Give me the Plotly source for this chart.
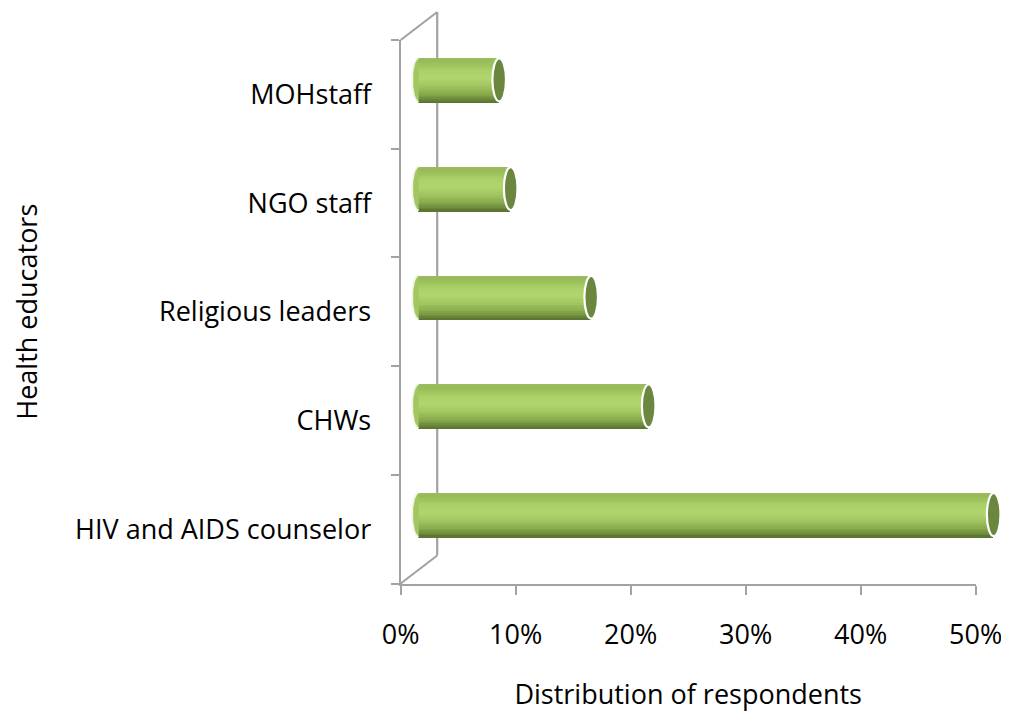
import math
import plotly.graph_objects as go

# ---- data (bottom -> top) ----
categories = ["HIV and AIDS counselor", "CHWs", "Religious leaders", "NGO staff", "MOHstaff"]
values = [50, 20, 15, 8, 7]
x_ticks = [0, 10, 20, 30, 40, 50]
x_title = "Distribution of respondents"
y_title = "Health educators"

W, H = 1009, 717
BODY = 8  # html body margin
FONT = "Open Sans"
FS = 27
GREY = "#a3a3a3"


def fx(px):
    return (px - BODY) / W


def fy(py):
    return (H - (py - BODY)) / H


# front (visible) axes frame in pixels (window coordinates)
FX0, FX1 = 400.7, 975.7
FY0, FY1 = 40.0, 583.5
DX_BAR, DY_BAR = 18.0, -14.5     # bar plane offset (3D depth)
DX_WALL, DY_WALL = 36.5, -28.0   # back wall offset

# cylinder shading (style): colour stops from top (0) to bottom (1)
stops = [(0.0, (0x9c, 0xbd, 0x5f)), (0.07, (0x95, 0xba, 0x57)), (0.28, (0xab, 0xd1, 0x69)),
         (0.45, (0xb1, 0xd5, 0x6e)), (0.62, (0xa2, 0xc6, 0x61)), (0.8, (0x89, 0xab, 0x4c)),
         (0.92, (0x6e, 0x8c, 0x3c)), (1.0, (0x58, 0x71, 0x30))]


def shade(t):
    for (t0, c0), (t1, c1) in zip(stops[:-1], stops[1:]):
        if t0 <= t <= t1:
            f = (t - t0) / (t1 - t0) if t1 > t0 else 0
            return "rgb(%d,%d,%d)" % tuple(round(a + (b - a) * f) for a, b in zip(c0, c1))
    return "rgb(%d,%d,%d)" % stops[-1][1]


bar_frac = 0.405
n = 26
h = bar_frac / n
pos = list(range(len(categories)))  # numeric positions on the hidden bar axis

px_per_unit = (FX1 - FX0) / (x_ticks[-1] - x_ticks[0])
PAD = 1.5  # extra range (data units) so end caps are not clipped
bar_range = [x_ticks[0] - PAD, x_ticks[-1] + PAD]

fig = go.Figure()

# left end caps (half ellipses), drawn behind the bar bodies
rx = 6.5 / px_per_unit
half_h = bar_frac / 2
cx, cy = [], []
for p in pos:
    for k in range(0, 37):
        t = math.pi / 2 + math.pi * k / 36
        cx.append(rx * math.cos(t))
        cy.append(p + half_h * math.sin(t))
    cx.append(None)
    cy.append(None)
fig.add_trace(go.Scatter(x=cx, y=cy, mode="lines", fill="toself", fillcolor="#a2c662",
                         line=dict(color="#eef5e3", width=1.6), xaxis="x", yaxis="y",
                         showlegend=False, hoverinfo="skip"))

for i in range(n):
    fig.add_trace(go.Bar(
        x=values, y=pos, orientation="h",
        offset=-bar_frac / 2, width=bar_frac - i * h,
        marker=dict(color=shade((i + 0.5) / n), line=dict(width=0)),
        xaxis="x", yaxis="y", showlegend=False, hoverinfo="skip",
    ))

# invisible carrier trace for the front axes
fig.add_trace(go.Scatter(x=[None], y=[categories[0]], xaxis="x2", yaxis="y2",
                         showlegend=False, hoverinfo="skip"))

shapes = []
for p, v in zip(pos, values):
    # right cap (front)
    shapes.append(dict(type="circle", layer="above", xref="x", yref="y",
                       xsizemode="pixel", xanchor=v, x0=-6.8, x1=6.8,
                       y0=p - half_h + 0.005, y1=p + half_h - 0.005,
                       fillcolor="#6b863f", line=dict(color="white", width=2.2)))

# back wall lines (paper coordinates of the chart frame)
wall = [
    ((FX0 + DX_WALL, FY0 + DY_WALL), (FX0 + DX_WALL, FY1 + DY_WALL)),
    ((FX0, FY0), (FX0 + DX_WALL, FY0 + DY_WALL)),
    ((FX0, FY1), (FX0 + DX_WALL, FY1 + DY_WALL)),
]
for (a, b) in wall:
    shapes.append(dict(type="line", layer="below", xref="paper", yref="paper",
                       x0=fx(a[0]), y0=fy(a[1]), x1=fx(b[0]), y1=fy(b[1]),
                       line=dict(color=GREY, width=2.2)))

bx0 = FX0 + DX_BAR + (bar_range[0] - x_ticks[0]) * px_per_unit
bx1 = FX0 + DX_BAR + (bar_range[1] - x_ticks[0]) * px_per_unit

fig.update_layout(
    width=W, height=H,
    margin=dict(l=0, r=0, t=0, b=0),
    paper_bgcolor="white", plot_bgcolor="rgba(0,0,0,0)",
    barmode="overlay", bargap=0,
    font=dict(family=FONT, size=FS, color="black"),
    shapes=shapes,
    xaxis=dict(domain=[fx(bx0), min(1.0, fx(bx1))], range=[bar_range[0], bar_range[0] + (min(1.0, fx(bx1)) - fx(bx0)) * W / px_per_unit],
               visible=False, anchor="y", fixedrange=True),
    yaxis=dict(domain=[fy(FY1 + DY_BAR), fy(FY0 + DY_BAR)], range=[-0.5, len(categories) - 0.5],
               visible=False, anchor="x", fixedrange=True),
    xaxis2=dict(domain=[fx(FX0), fx(FX1)], range=[x_ticks[0], x_ticks[-1]], anchor="y2",
                tickvals=x_ticks, ticktext=[f"{t}%" for t in x_ticks],
                showline=True, linecolor=GREY, linewidth=2.2,
                ticks="outside", ticklen=9, tickwidth=2.2, tickcolor=GREY,
                showgrid=False, zeroline=False, automargin=False,
                ticklabelstandoff=17,
                tickfont=dict(family=FONT, size=FS),
                title=dict(text=x_title, standoff=34, font=dict(family=FONT, size=FS))),
    yaxis2=dict(domain=[fy(FY1), fy(FY0)], range=[-0.5, len(categories) - 0.5], anchor="x2",
                type="category", categoryorder="array", categoryarray=categories,
                tickson="boundaries",
                showline=True, linecolor=GREY, linewidth=2.2,
                ticks="outside", ticklen=8, tickwidth=2.2, tickcolor=GREY,
                showgrid=False, zeroline=False, automargin=False,
                ticklabelstandoff=22,
                tickfont=dict(family=FONT, size=FS),
                title=dict(text=y_title, standoff=30, font=dict(family=FONT, size=FS))),
)

fig.write_html("out.html")
